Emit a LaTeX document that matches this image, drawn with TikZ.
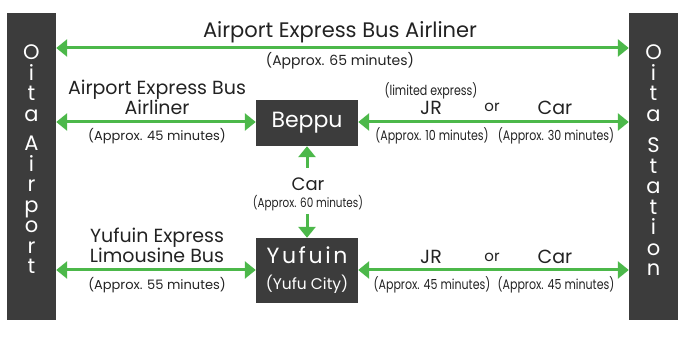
\documentclass[tikz,border=0pt]{standalone}
\usepackage{fontspec}
\setmainfont{Poppins}
\newfontfamily\condfont[FakeStretch=0.8]{Poppins}
\newfontfamily\widefont[LetterSpace=12]{Poppins}
\usetikzlibrary{arrows.meta}
\definecolor{grn}{HTML}{4CB84A}
\definecolor{dk}{HTML}{3C3C3C}
\definecolor{txt}{HTML}{222222}
\tikzset{
  tip/.tip={Triangle[length=11pt,width=17pt]},
  conn/.style={grn, line width=3pt, tip-tip},
  one/.style={grn, line width=3pt, -tip},
  big/.style={font=\fontsize{19}{20}\selectfont, text=txt, inner sep=0pt, align=center},
  small/.style={font=\fontsize{13}{15}\selectfont, text=txt, inner sep=0pt},
  cond/.style={font=\condfont\fontsize{13.8}{15}\selectfont, text=txt, inner sep=0pt},
  bar/.style={fill=dk, draw=none, minimum width=49pt, minimum height=307pt, inner sep=0pt},
  vlet/.style={text=white, inner sep=0pt, align=center, anchor=north, font=\fontsize{21}{20.5}\selectfont},
  place/.style={fill=dk, minimum width=102pt, inner sep=0pt, text=white, align=center},
}
\begin{document}
\begin{tikzpicture}[x=1pt,y=-1pt]
\useasboundingbox (0,0) rectangle (691,339);
% terminal bars
\node[bar] (apt) at (31.5,166.5) {};
\node[bar] (sta) at (653.5,166.5) {};
\node[vlet] (apttxt) at (31.5,44.5)
  {O\\i\\t\\a\\[9pt]A\\i\\r\\p\\o\\r\\t};
\node[vlet] (statxt) at (653.5,44.5)
  {O\\i\\t\\a\\[11pt]S\\t\\a\\t\\i\\o\\n};
% places
\node[place, minimum height=46pt, font=\fontsize{22}{24}\selectfont] (bep) at (307,123) {Beppu};
\node[place, minimum height=65pt, font=\fontsize{22}{26}\selectfont] (yuf) at (307,270.5)
  {{\widefont Yufuin}\\{\fontsize{15.5}{17}\selectfont (Yufu City)}};
% row coordinates
\coordinate (r0) at (0,48);
\coordinate (r1) at (0,122);
\coordinate (r2) at (0,270);
% top connection
\draw[conn] (apt.east |- r0) -- (sta.west |- r0);
\node[big, font=\fontsize{21}{22}\selectfont] (l0) at (340,32) {Airport Express Bus Airliner};
\node[small, font=\fontsize{14}{15}\selectfont] (t0) at (340,61) {(Approx. 65 minutes)};
% row 1
\draw[conn] (apt.east |- r1) -- (bep.west |- r1);
\node[big] (l1) at (157,97) {Airport Express Bus\\Airliner};
\node[small] (t1) at (157,136) {(Approx. 45 minutes)};
\draw[conn] (bep.east |- r1) -- (sta.west |- r1);
\node[cond] (le1) at (431,91) {(limited express)};
\node[big] (jr1) at (431,108) {JR};
\node[small, font=\fontsize{15}{16}\selectfont] (or1) at (492,107) {or};
\node[big] (car1) at (555,108) {Car};
\node[cond] (t1a) at (432,136) {(Approx. 10 minutes)};
\node[cond] (t1b) at (556,136) {(Approx. 30 minutes)};
% vertical
\node[big, font=\fontsize{18}{20}\selectfont] (car) at (308,184) {Car};
\node[cond, font=\condfont\fontsize{13}{15}\selectfont] (t60) at (308,203) {(Approx. 60 minutes)};
\coordinate (cu) at (307,168);
\coordinate (cd) at (307,214);
\draw[one] (cu) -- (bep.south);
\draw[one] (cd) -- (yuf.north);
% row 2
\draw[conn] (apt.east |- r2) -- (yuf.west |- r2);
\node[big] (l2) at (157,245) {Yufuin Express\\Limousine Bus};
\node[small] (t2) at (157,285) {(Approx. 55 minutes)};
\draw[conn] (yuf.east |- r2) -- (sta.west |- r2);
\node[big] (jr2) at (431,257) {JR};
\node[small, font=\fontsize{15}{16}\selectfont] (or2) at (492,257) {or};
\node[big] (car2) at (555,257) {Car};
\node[cond] (t2a) at (432,285) {(Approx. 45 minutes)};
\node[cond] (t2b) at (556,285) {(Approx. 45 minutes)};
\end{tikzpicture}
\end{document}
